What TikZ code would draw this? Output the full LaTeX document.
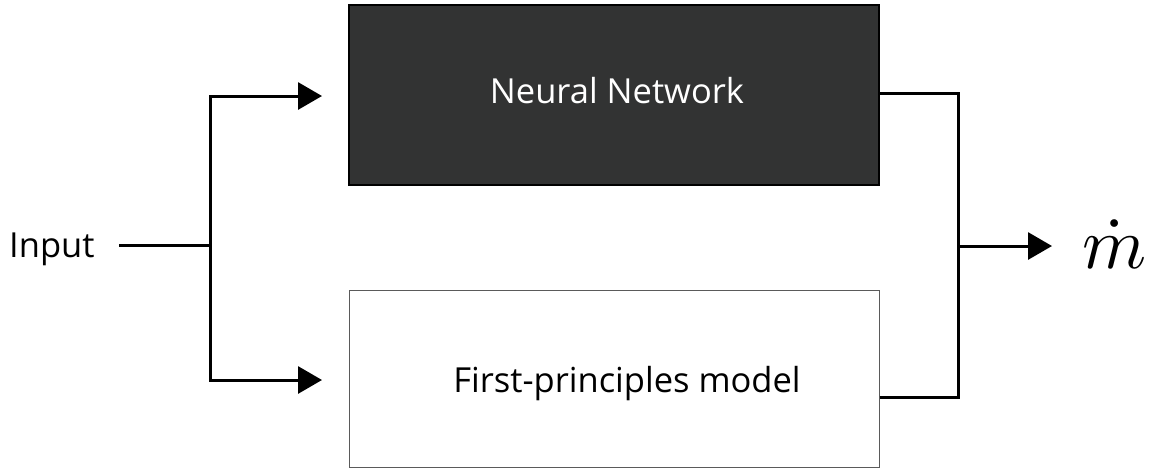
\documentclass[tikz,border=0pt]{standalone}
\usepackage{fontspec}
\setmainfont{Open Sans}
\usetikzlibrary{arrows.meta,calc}
\definecolor{nnfill}{RGB}{50,51,51}
\definecolor{fpline}{RGB}{90,90,90}
\begin{document}
\begin{tikzpicture}[x=1pt,y=-1pt,
  conn/.style={line width=3pt},
  arr/.style={conn,-{Triangle[length=24pt,width=27pt]}},
  boxtext/.style={font=\fontsize{34.5}{40}\selectfont},
]
\useasboundingbox (0,0) rectangle (1162,472);
\node[draw=black,line width=1.5pt,fill=nnfill,minimum width=530pt,minimum height=180pt,inner sep=0pt] (nn) at (614,95) {};
\node[text=white,boxtext,anchor=base,inner sep=0pt] (nnlabel) at (617,103) {Neural Network};
\node[draw=fpline,line width=1pt,fill=white,minimum width=530pt,minimum height=177pt,inner sep=0pt] (fp) at (614,378.5) {};
\node[boxtext,anchor=base,inner sep=0pt] (fplabel) at (627,392) {First-principles model};
\node[anchor=base west,inner sep=0pt,boxtext] (in) at (9,257) {Input};
\node[anchor=base west,inner sep=0pt] (mdot) at (1082,268) {\scalebox{7.3}{$\dot m$}};
\coordinate (split) at (210,245);
\coordinate (merge) at (958,246);
\coordinate (nnin) at (322,96);
\coordinate (fpin) at (322,380);
\coordinate (out) at (1052,246);
\draw[conn] (119,245) -- (split);
\draw[arr] (split) |- (nnin);
\draw[arr] (split) |- (fpin);
\draw[conn] ($(nn.east)+(0,-2)$) -| (merge);
\draw[conn] ($(fp.east)+(0,18.5)$) -| (merge);
\draw[arr] (merge) -- (out);
\end{tikzpicture}
\end{document}
